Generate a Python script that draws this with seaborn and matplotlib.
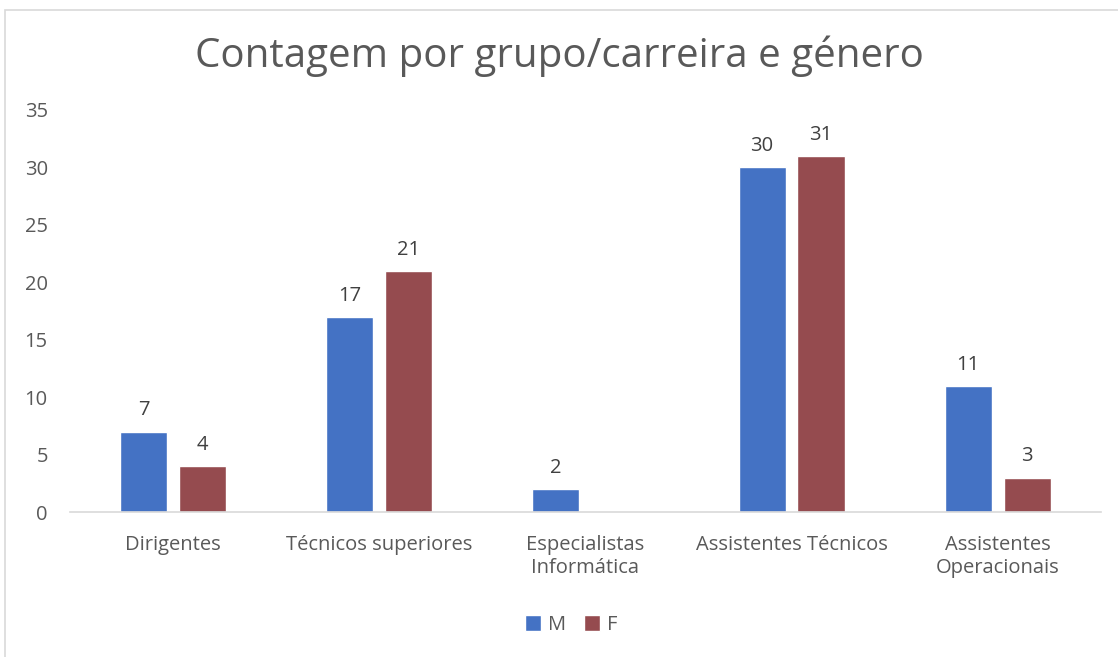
import matplotlib
matplotlib.use("Agg")
from matplotlib import pyplot as plt
from matplotlib.patches import Rectangle
import pandas as pd
import seaborn as sns

categories = ["Dirigentes", "Técnicos superiores", "Especialistas\nInformática",
              "Assistentes Técnicos", "Assistentes\nOperacionais"]
m_values = [7, 17, 2, 30, 11]
f_values = [4, 21, 0, 31, 3]
genders = ["M", "F"]
colors = ["#4472C4", "#954B4F"]
y_ticks = [0, 5, 10, 15, 20, 25, 30, 35]

df = pd.DataFrame({
    "categoria": categories * 2,
    "genero": ["M"] * len(categories) + ["F"] * len(categories),
    "valor": m_values + f_values,
})

sns.set_style("white")
plt.rcParams["font.family"] = ["Open Sans", "DejaVu Sans"]
text_color = "#595959"

fig = plt.figure(figsize=(11.18, 6.57), dpi=100)
ax = fig.add_axes([0.0626, 0.2207, 0.922, 0.612])

sns.barplot(data=df, x="categoria", y="valor", hue="genero", hue_order=genders,
            palette=colors, width=0.571, gap=0.2, saturation=1, ax=ax,
            legend=True)

# value labels, skip the empty bar
for container in ax.containers:
    labels = [f"{int(b.get_height())}" if b.get_height() > 0 else ""
              for b in container]
    ax.bar_label(container, labels=labels, padding=8, fontsize=14.5,
                 color="#404040")

ax.set_ylim(0, 35)
ax.set_yticks(y_ticks)
ax.set_xlim(-0.5, len(categories) - 0.5)
ax.set_xlabel("")
ax.set_ylabel("")
ax.tick_params(axis="both", length=0, labelsize=14.5, colors=text_color)
ax.tick_params(axis="y", pad=16)
ax.tick_params(axis="x", pad=16.5)
for lab in ax.get_xticklabels():
    lab.set_multialignment("center")

for side in ["top", "right", "left"]:
    ax.spines[side].set_visible(False)
ax.spines["bottom"].set_color("#D9D9D9")
ax.spines["bottom"].set_linewidth(1.2)

leg = ax.legend(loc="center", bbox_to_anchor=(0.511, 0.0487), bbox_transform=fig.transFigure,
                ncol=2, frameon=False, fontsize=14.5, handlelength=0.8,
                handleheight=0.8, handletextpad=0.35, columnspacing=0.9)
for t in leg.get_texts():
    t.set_color(text_color)

fig.text(0.5, 0.915, "Contagem por grupo/carreira e género", ha="center",
         va="center", fontsize=29, color=text_color)

# chart border like an Excel chart area
fig.patches.append(Rectangle((5 / 1118, -0.01), 1.0, 1 - 10 / 657 + 0.01,
                             transform=fig.transFigure, fill=False,
                             edgecolor="#D9D9D9", linewidth=1.2))

fig.savefig("out.png", dpi=100)
plt.close(fig)
